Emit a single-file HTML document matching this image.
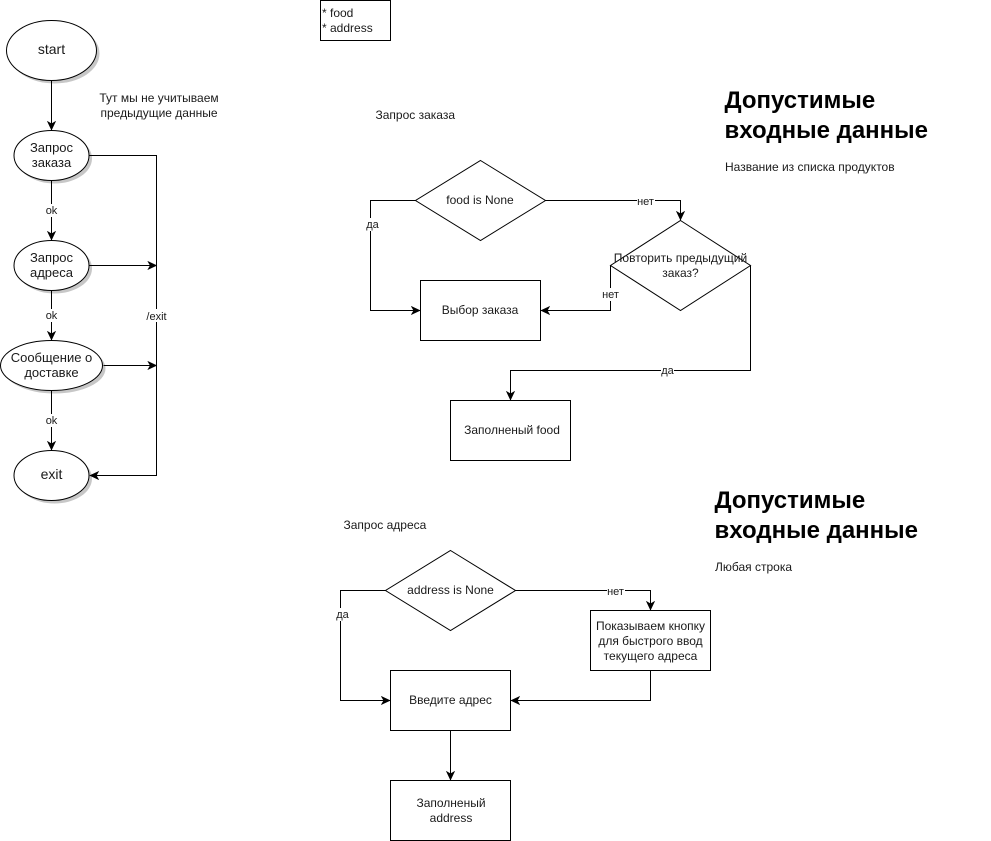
<!DOCTYPE html>
<html><head><meta charset="utf-8">
<style>
html,body{margin:0;padding:0;background:#fff;}
svg{display:block;}
text{font-family:"Liberation Sans",Arial,sans-serif;font-size:12px;fill:#1a1a1a;}
.c{text-anchor:middle;}
.h{font-size:24px;font-weight:bold;fill:#000;}
.n{font-size:13px;}
.n2{font-size:14px;}
.s{fill:#fff;stroke:#000;stroke-width:1;}
.l{fill:none;stroke:#000;stroke-width:1;}
.sh{fill:#999;opacity:.55;}
.b{fill:#fff;}
</style></head>
<body>
<svg width="991" height="841" viewBox="0 0 991 841" xmlns="http://www.w3.org/2000/svg">
<defs>
<marker id="m" markerUnits="userSpaceOnUse" markerWidth="12" markerHeight="12" refX="9" refY="5" orient="auto">
<path d="M1 1.5 L8.5 5 L1 8.5 L3 5 Z" fill="#000" stroke="#000"/>
</marker>
</defs>

<!-- shadows -->
<ellipse class="sh" cx="54.5" cy="53.5" rx="45" ry="30"/>
<ellipse class="sh" cx="54.5" cy="158.5" rx="37.5" ry="25"/>
<ellipse class="sh" cx="54.5" cy="268.5" rx="37.5" ry="25"/>
<ellipse class="sh" cx="54.5" cy="368.5" rx="51" ry="25"/>
<ellipse class="sh" cx="54.5" cy="478.5" rx="37.5" ry="25"/>

<!-- left connectors -->
<path class="l" d="M51.5 80.5V130" marker-end="url(#m)"/>
<path class="l" d="M51.5 180.5V240" marker-end="url(#m)"/>
<path class="l" d="M51.5 290.5V340" marker-end="url(#m)"/>
<path class="l" d="M51.5 390.5V450" marker-end="url(#m)"/>
<path class="l" d="M89.5 155.5H156.5V475.5H90" marker-end="url(#m)"/>
<path class="l" d="M89.5 265.5H156.5" marker-end="url(#m)"/>
<path class="l" d="M103.5 365.5H156.5" marker-end="url(#m)"/>

<!-- left nodes -->
<ellipse class="s" cx="51.5" cy="50.5" rx="45" ry="30"/>
<ellipse class="s" cx="51.5" cy="155.5" rx="37.5" ry="25"/>
<ellipse class="s" cx="51.5" cy="265.5" rx="37.5" ry="25"/>
<ellipse class="s" cx="51.5" cy="365.5" rx="51" ry="25"/>
<ellipse class="s" cx="51.5" cy="475.5" rx="37.5" ry="25"/>

<text class="c n2" x="51.5" y="54">start</text>
<text class="c n" x="51.5" y="152">Запрос</text>
<text class="c n" x="51.5" y="167">заказа</text>
<text class="c n" x="51.5" y="262">Запрос</text>
<text class="c n" x="51.5" y="277">адреса</text>
<text class="c n" x="51.5" y="362">Сообщение о</text>
<text class="c n" x="51.5" y="377">доставке</text>
<text class="c n2" x="51.5" y="479">exit</text>

<text class="c" x="159" y="102">Тут мы не учитываем</text>
<text class="c" x="159" y="117">предыдущие данные</text>

<rect class="b" x="45" y="204" width="13" height="13"/>
<text class="c" x="51.5" y="214" style="font-size:11px">ok</text>
<rect class="b" x="45" y="309" width="13" height="13"/>
<text class="c" x="51.5" y="319" style="font-size:11px">ok</text>
<rect class="b" x="45" y="414" width="13" height="13"/>
<text class="c" x="51.5" y="424" style="font-size:11px">ok</text>
<rect class="b" x="146" y="309" width="21" height="13"/>
<text class="c" x="156.5" y="320" style="font-size:11px">/exit</text>

<!-- top note -->
<rect class="s" x="320.5" y="0.5" width="70" height="40"/>
<text x="322" y="17">* food</text>
<text x="322" y="32">* address</text>

<text x="375.5" y="119">Запрос заказа</text>

<!-- headings -->
<text class="h" x="724.5" y="108">Допустимые</text>
<text class="h" x="724.5" y="138">входные данные</text>
<text x="725" y="171">Название из списка продуктов</text>
<text class="h" x="714.5" y="508">Допустимые</text>
<text class="h" x="714.5" y="538">входные данные</text>
<text x="715" y="571">Любая строка</text>

<!-- food flow -->
<path class="l" d="M415.5 200.5H370.5V310.5H420" marker-end="url(#m)"/>
<path class="l" d="M545.5 200.5H680.5V220" marker-end="url(#m)"/>
<path class="l" d="M610.5 265.5V310.5H541" marker-end="url(#m)"/>
<path class="l" d="M750.5 265.5V370.5H510.5V400" marker-end="url(#m)"/>
<polygon class="s" points="480.5,160.5 545.5,200.5 480.5,240.5 415.5,200.5"/>
<polygon class="s" points="680.5,220.5 750.5,265.5 680.5,310.5 610.5,265.5"/>
<rect class="s" x="420.5" y="280.5" width="120" height="60"/>
<rect class="s" x="450.5" y="400.5" width="120" height="60"/>
<text class="c" x="480" y="204">food is None</text>
<text class="c" x="680.5" y="262">Повторить предыдущий</text>
<text class="c" x="680.5" y="277">заказ?</text>
<text class="c" x="480" y="314">Выбор заказа</text>
<text class="c" x="512" y="434">Заполненый food</text>

<rect class="b" x="637" y="195" width="18" height="12"/>
<text class="c" x="645.5" y="205" style="font-size:11px">нет</text>
<rect class="b" x="366" y="218" width="13" height="13"/>
<text class="c" x="372.5" y="228" style="font-size:11px">да</text>
<rect class="b" x="601" y="288" width="19" height="13"/>
<text class="c" x="610.5" y="298" style="font-size:11px">нет</text>
<rect class="b" x="661" y="365" width="13" height="12"/>
<text class="c" x="667.5" y="374" style="font-size:11px">да</text>

<!-- address flow -->
<text x="343.5" y="529">Запрос адреса</text>
<path class="l" d="M385.5 590.5H340.5V700.5H390" marker-end="url(#m)"/>
<path class="l" d="M515.5 590.5H650.5V610" marker-end="url(#m)"/>
<path class="l" d="M650.5 670.5V700.5H511" marker-end="url(#m)"/>
<path class="l" d="M450.5 730.5V780" marker-end="url(#m)"/>
<polygon class="s" points="450.5,550.5 515.5,590.5 450.5,630.5 385.5,590.5"/>
<rect class="s" x="590.5" y="610.5" width="120" height="60"/>
<rect class="s" x="390.5" y="670.5" width="120" height="60"/>
<rect class="s" x="390.5" y="780.5" width="120" height="60"/>
<text class="c" x="450.5" y="594">address is None</text>
<text class="c" x="650.5" y="630">Показываем кнопку</text>
<text class="c" x="650.5" y="645">для быстрого ввод</text>
<text class="c" x="650.5" y="660">текущего адреса</text>
<text class="c" x="450.5" y="704">Введите адрес</text>
<text class="c" x="451" y="807">Заполненый</text>
<text class="c" x="451" y="822">address</text>

<rect class="b" x="607" y="585" width="18" height="12"/>
<text class="c" x="615.5" y="595" style="font-size:11px">нет</text>
<rect class="b" x="336" y="608" width="13" height="13"/>
<text class="c" x="342.5" y="618" style="font-size:11px">да</text>
</svg>
</body></html>
